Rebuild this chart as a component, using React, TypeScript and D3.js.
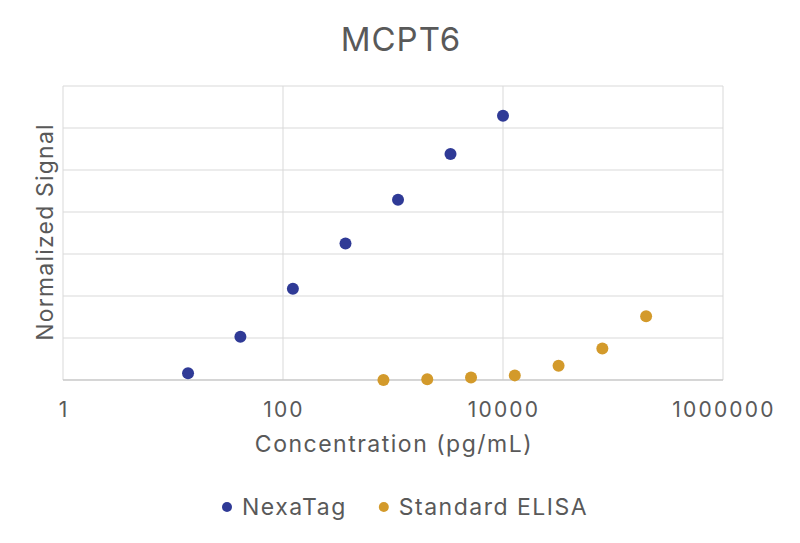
import React, { useRef, useEffect } from "react";
import * as d3 from "d3";

// concentrations in pg/mL, signal in normalized units
const nexaConc = [13.7, 41, 123, 370, 1111, 3333, 10000];
const nexaSignal = [0.16, 1.03, 2.17, 3.25, 4.29, 5.38, 6.29];
const elisaConc = [819, 2048, 5120, 12800, 32000, 80000, 200000];
const elisaSignal = [0.0, 0.02, 0.06, 0.11, 0.34, 0.75, 1.52];
const xTicks = [1, 100, 10000, 1000000];
const yTicks = [0, 1, 2, 3, 4, 5, 6, 7];

const series = [
  { name: "NexaTag", color: "#2f3a96", x: nexaConc, y: nexaSignal },
  { name: "Standard ELISA", color: "#d39a2b", x: elisaConc, y: elisaSignal },
];

const width = 800;
const height = 543;
const margin = { top: 86, right: 77, bottom: 163, left: 63 };
const textColor = "#595959";
const font = "Inter, 'Noto Sans', sans-serif";

const App: React.FC = () => {
  const svgRef = useRef<SVGSVGElement | null>(null);

  useEffect(() => {
    if (!svgRef.current) return;
    const svg = d3.select(svgRef.current);
    svg.selectAll("*").remove();

    const innerW = width - margin.left - margin.right;
    const innerH = height - margin.top - margin.bottom;

    const x = d3.scaleLog().domain([1, 1000000]).range([0, innerW]);
    const y = d3.scaleLinear().domain([0, 7]).range([innerH, 0]);

    const g = svg
      .append("g")
      .attr("transform", `translate(${margin.left},${margin.top})`);

    // horizontal grid
    g.selectAll("line.hgrid")
      .data(yTicks)
      .enter()
      .append("line")
      .attr("class", "hgrid")
      .attr("x1", 0)
      .attr("x2", innerW)
      .attr("y1", (d) => y(d))
      .attr("y2", (d) => y(d))
      .attr("stroke", "#d9d9d9")
      .attr("stroke-width", 1);

    // vertical grid
    g.selectAll("line.vgrid")
      .data(xTicks)
      .enter()
      .append("line")
      .attr("class", "vgrid")
      .attr("x1", (d) => x(d))
      .attr("x2", (d) => x(d))
      .attr("y1", 0)
      .attr("y2", innerH)
      .attr("stroke", "#d9d9d9")
      .attr("stroke-width", 1);

    // bottom axis line
    g.append("line")
      .attr("x1", 0)
      .attr("x2", innerW)
      .attr("y1", innerH)
      .attr("y2", innerH)
      .attr("stroke", "#bfbfbf");

    // x tick labels
    g.selectAll("text.xtick")
      .data(xTicks)
      .enter()
      .append("text")
      .attr("class", "xtick")
      .attr("x", (d) => x(d) + 1)
      .attr("y", innerH + 37)
      .attr("text-anchor", "middle")
      .style("font-family", font)
      .style("font-size", "21px")
      .style("letter-spacing", "2.2px")
      .style("fill", textColor)
      .text((d) => String(d));

    // points
    series.forEach((s) => {
      g.selectAll(null)
        .data(s.x.map((v, i) => [v, s.y[i]]))
        .enter()
        .append("circle")
        .attr("cx", (d) => x(d[0]))
        .attr("cy", (d) => y(d[1]))
        .attr("r", 6)
        .style("fill", s.color);
    });

    // title
    svg
      .append("text")
      .attr("x", width / 2 + 1)
      .attr("y", 51)
      .attr("text-anchor", "middle")
      .style("font-family", font)
      .style("font-size", "33px")
      .style("letter-spacing", "1px")
      .style("fill", textColor)
      .text("MCPT6");

    // x axis title
    svg
      .append("text")
      .attr("x", margin.left + innerW / 2 + 1)
      .attr("y", 452)
      .attr("text-anchor", "middle")
      .style("font-family", font)
      .style("font-size", "23px")
      .style("letter-spacing", "1.5px")
      .style("fill", textColor)
      .text("Concentration (pg/mL)");

    // y axis title
    svg
      .append("text")
      .attr("transform", `translate(53,${margin.top + innerH / 2 - 1}) rotate(-90)`)
      .attr("text-anchor", "middle")
      .style("font-family", font)
      .style("font-size", "23px")
      .style("letter-spacing", "1.2px")
      .style("fill", textColor)
      .text("Normalized Signal");

    // legend
    const legend = svg.append("g").attr("transform", "translate(227,507)");
    let offset = 0;
    series.forEach((s) => {
      const item = legend.append("g").attr("transform", `translate(${offset},0)`);
      item.append("circle").attr("r", 5).style("fill", s.color);
      const t = item
        .append("text")
        .attr("x", 15)
        .attr("y", 8)
        .style("font-family", font)
        .style("font-size", "23px")
        .style("letter-spacing", "1.5px")
        .style("fill", textColor)
        .text(s.name);
      const w = (t.node() as SVGTextElement).getComputedTextLength();
      offset += 15 + w + 37;
    });
  }, []);

  return (
    <svg
      ref={svgRef}
      width={width}
      height={height}
      style={{ position: "absolute", left: 0, top: 0, background: "#fff" }}
    ></svg>
  );
};

export default App;
